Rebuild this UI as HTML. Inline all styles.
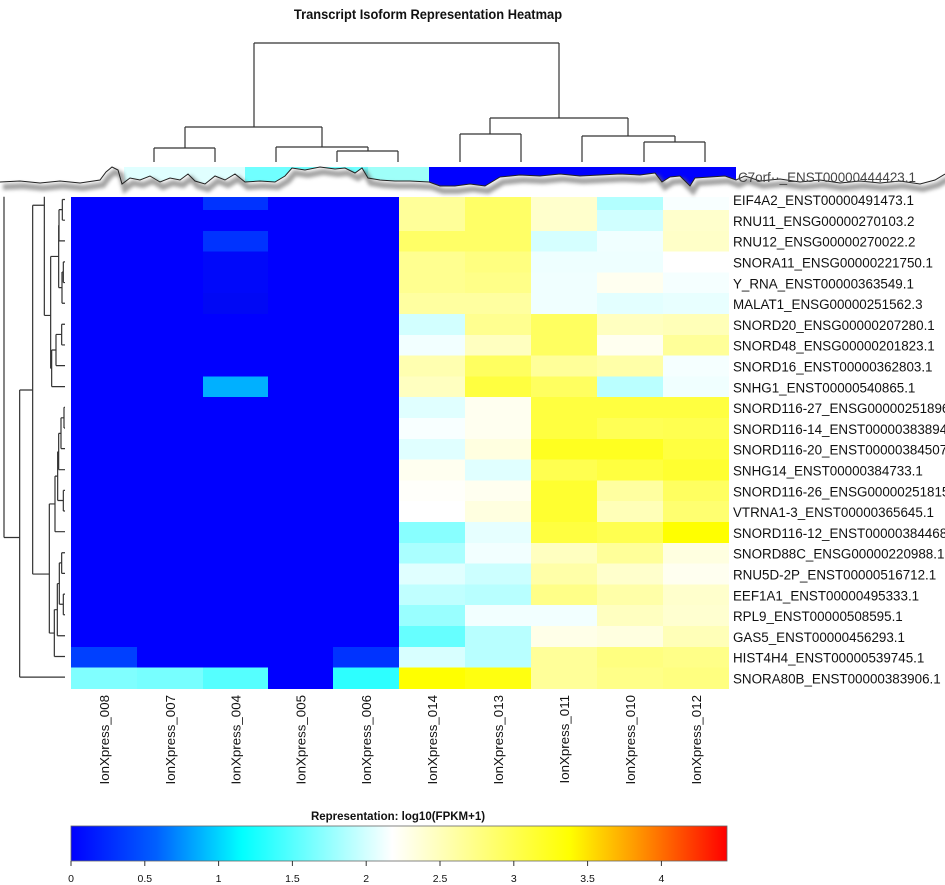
<!DOCTYPE html>
<html><head><meta charset="utf-8"><style>
body{margin:0;background:#fff}
svg{display:block;font-family:"Liberation Sans",sans-serif}
</style></head><body>
<svg width="945" height="885" viewBox="0 0 945 885" xmlns="http://www.w3.org/2000/svg">
<defs>
<filter id="bl" x="-5%" y="-100%" width="110%" height="300%"><feGaussianBlur stdDeviation="1.8"/></filter>
<linearGradient id="g" x1="0" x2="1">
<stop offset="0" stop-color="#0000ff"/><stop offset="0.13" stop-color="#0060ff"/>
<stop offset="0.26" stop-color="#00ffff"/><stop offset="0.49" stop-color="#ffffff"/>
<stop offset="0.76" stop-color="#ffff00"/><stop offset="0.86" stop-color="#ff9a00"/>
<stop offset="1" stop-color="#ff0000"/></linearGradient></defs>
<rect width="945" height="885" fill="#fff"/>
<text x="428" y="19" font-size="14" font-weight="bold" text-anchor="middle" fill="#111" transform="translate(428 0) scale(0.92 1) translate(-428 0)">Transcript Isoform Representation Heatmap</text>

<g stroke="#333" stroke-width="1.2" fill="none">
<path d="M254 43H559M254 43V127M559 43V118"/>
<path d="M185 127H322M185 127V148M322 127V147"/>
<path d="M154 148H215M154 148V167M215 148V167"/>
<path d="M276 147H368M276 147V167M368 147V151M337 151H398M337 151V167M398 151V167"/>
<path d="M490 118H628M490 118V134M628 118V136"/>
<path d="M460 134H521M460 134V167M521 134V167"/>
<path d="M582 136H675M582 136V167M675 136V142M644 142H705M644 142V167M705 142V167"/>
</g>

<g id="hm" shape-rendering="crispEdges"></g>

<rect x="0" y="162" width="945" height="35" fill="#fff"/>
<g id="strip"></g>

<g transform="translate(0,190) scale(0.3333,0.339)" stroke="#333" fill="none" stroke-width="1.2">
<path vector-effect="non-scaling-stroke" d="
M12 20V1025M12 1025H59
M59 590V1437M59 1437H195M59 590H98
M98 45V1133M98 45H133M133 20V370M133 370H152
M152 196V526M152 196H176M176 104V288M176 104H177M177 58V150M177 150H195M177 58H187M187 28V89M187 28H195M187 89H195
M176 288H186M186 242V334M186 334H195M186 242H190M190 212V273M190 212H195M190 273H195
M152 526H155M155 472V580M155 580H195M155 472H168M168 426V518M168 518H195M168 426H185M185 396V457M185 396H195M185 457H195
M98 1133H148M148 926V1307
M148 926H165M165 844V1008M165 1008H195M165 844H173M173 772V916M173 916H190M190 886V947M190 886H195M190 947H195
M173 772H176M176 718V825M176 825H195M176 718H183M183 672V763M183 763H195M183 672H192M192 641V702M192 641H195M192 702H195
M148 1307H163M163 1238V1376M163 1376H195M163 1238H172M172 1161V1315M172 1315H195M172 1161H178M178 1100V1222
M178 1100H185M185 1070V1131M185 1070H195M185 1131H195M178 1222H190M190 1192V1253M190 1192H195M190 1253H195"/>
</g>

<g font-size="13.4" fill="#111" id="rl"></g>
<g font-size="13.3" fill="#111" id="cl"></g>

<text x="398" y="820" font-size="11.5" font-weight="bold" text-anchor="middle" fill="#111">Representation: log10(FPKM+1)</text>
<rect x="71" y="826" width="656" height="35" fill="url(#g)" stroke="#666" stroke-width="0.8"/>
<g stroke="#333" stroke-width="1" id="ticks"></g>
<g font-size="10.5" fill="#111" text-anchor="middle" id="tl"></g>
</svg>
<script>
var NS="http://www.w3.org/2000/svg";
function el(t,a,p,txt){var e=document.createElementNS(NS,t);for(var k in a)e.setAttribute(k,a[k]);if(txt!=null)e.textContent=txt;p.appendChild(e);return e;}
var B="#0000ff";
var left=[
[B,B,"#0033ff",B,B],[B,B,B,B,B],[B,B,"#0033ff",B,B],[B,B,"#0008fa",B,B],[B,B,"#0008fa",B,B],[B,B,"#0008f5",B,B],
[B,B,B,B,B],[B,B,B,B,B],[B,B,B,B,B],[B,B,"#00b0ff",B,B],
[B,B,B,B,B],[B,B,B,B,B],[B,B,B,B,B],[B,B,B,B,B],[B,B,B,B,B],[B,B,B,B,B],[B,B,B,B,B],[B,B,B,B,B],[B,B,B,B,B],[B,B,B,B,B],[B,B,B,B,B],[B,B,B,B,B],
["#0040ff",B,B,B,"#0033ff"],["#80ffff","#77ffff","#55ffff",B,"#2dffff"]];
var right=[
["#ffff99","#ffff66","#ffffcc","#b3ffff","#f8ffff"],
["#ffff99","#ffff66","#ffffcc","#d0ffff","#ffffcc"],
["#ffff66","#ffff66","#d5ffff","#f0ffff","#ffffc8"],
["#ffff90","#ffff80","#eeffff","#eeffff","#ffffff"],
["#ffff90","#ffff88","#f0ffff","#fffff0","#f5ffff"],
["#ffffa0","#ffffa0","#f0ffff","#e3ffff","#e8ffff"],
["#d2ffff","#ffff90","#ffff60","#ffffc0","#ffffb8"],
["#f2ffff","#ffffc0","#ffff60","#fffff0","#ffff99"],
["#ffffb0","#ffff60","#ffff99","#ffffa8","#f5ffff"],
["#ffffc0","#ffff40","#ffff60","#baffff","#f0ffff"],
["#e0ffff","#fffff0","#ffff40","#ffff40","#ffff40"],
["#f8ffff","#fffff0","#ffff40","#ffff55","#ffff50"],
["#e0ffff","#ffffe0","#ffff20","#ffff20","#ffff40"],
["#fffff0","#e0ffff","#ffff50","#ffff40","#ffff30"],
["#fffffa","#fffff0","#ffff30","#ffffa0","#ffff60"],
["#ffffff","#ffffe0","#ffff30","#ffffb8","#ffff70"],
["#88ffff","#e6ffff","#ffff40","#ffff50","#ffff00"],
["#aaffff","#f2ffff","#ffffc0","#ffff99","#ffffe0"],
["#e0ffff","#ccffff","#ffffa8","#ffffcc","#fffff0"],
["#c0ffff","#b8ffff","#ffff88","#ffffa8","#ffffcc"],
["#99ffff","#f2ffff","#f2ffff","#ffffc0","#ffffd0"],
["#66ffff","#b8ffff","#ffffe8","#ffffe0","#ffffb8"],
["#d8ffff","#b8ffff","#ffff99","#ffff80","#ffff88"],
["#ffff00","#ffff10","#ffff99","#ffff88","#ffff80"]];
var cx=[71,137,203,268,333,399,465,531,597,663,729];
var hm=document.getElementById("hm");
var top0=189.2,ph=20.8;
for(var i=0;i<24;i++){var row=left[i].concat(right[i]);
 for(var j=0;j<10;j++){var y=top0+i*ph;
  el("rect",{x:cx[j],y:y,width:cx[j+1]-cx[j],height:ph+0.5,fill:row[j]},hm);}}
var labels=["EIF4A2_ENST00000491473.1","RNU11_ENSG00000270103.2","RNU12_ENSG00000270022.2","SNORA11_ENSG00000221750.1","Y_RNA_ENST00000363549.1","MALAT1_ENSG00000251562.3","SNORD20_ENSG00000207280.1","SNORD48_ENSG00000201823.1","SNORD16_ENST00000362803.1","SNHG1_ENST00000540865.1","SNORD116-27_ENSG00000251896","SNORD116-14_ENST00000383894","SNORD116-20_ENST00000384507","SNHG14_ENST00000384733.1","SNORD116-26_ENSG00000251815","VTRNA1-3_ENST00000365645.1","SNORD116-12_ENST00000384468","SNORD88C_ENSG00000220988.1","RNU5D-2P_ENST00000516712.1","EEF1A1_ENST00000495333.1","RPL9_ENST00000508595.1","GAS5_ENST00000456293.1","HIST4H4_ENST00000539745.1","SNORA80B_ENST00000383906.1"];
var rl=document.getElementById("rl");
for(var i=0;i<24;i++){el("text",{x:733,y:top0+i*ph+ph/2+5.5},rl,labels[i]);}
var cn=["008","007","004","005","006","014","013","011","010","012"];
var cl=document.getElementById("cl");
for(var j=0;j<10;j++){var x=(cx[j]+cx[j+1])/2+5;
 el("text",{x:0,y:0,"text-anchor":"end",transform:"translate("+x+",695) rotate(-90)"},cl,"IonXpress_"+cn[j]);}
var st=document.getElementById("strip");
var pts=[[0,182],[20,181],[40,183],[60,181],[80,183],[100,180],[106,172],[112,167],[118,170],[122,184],[130,178],[140,180],[150,176],[160,182],[170,178],[180,180],[188,174],[195,181],[205,184],[215,176],[225,180],[235,174],[245,182],[260,181],[275,182],[285,176],[292,168],[305,170],[320,167],[335,169],[345,168],[355,173],[362,168],[368,178],[380,180],[395,181],[410,181],[429,182],[440,186],[455,186],[470,184],[485,186],[500,177],[520,175],[540,176],[560,174],[580,176],[600,175],[620,174],[640,175],[655,173],[662,182],[670,177],[680,176],[690,186],[695,178],[710,177],[725,176],[736,180],[745,176],[760,181],[780,179],[800,182],[820,180],[840,183],[860,181],[880,183],[900,181],[920,184],[935,180],[945,174]];
function yAt(x){for(var k=0;k<pts.length-1;k++){if(x>=pts[k][0]&&x<=pts[k+1][0]){var t=(x-pts[k][0])/(pts[k+1][0]-pts[k][0]);return pts[k][1]+t*(pts[k+1][1]-pts[k][1]);}}return 180;}
function fillSeg(x0,x1,c){var d="M"+x0+" 167";var p=pts.filter(function(q){return q[0]>=x0&&q[0]<=x1;});
 d+="H"+x1+"V"+yAt(x1);for(var k=p.length-1;k>=0;k--)d+="L"+p[k][0]+" "+p[k][1];d+="L"+x0+" "+yAt(x0)+"Z";el("path",{d:d,fill:c},st);}
fillSeg(124,245,"#e0ffff");fillSeg(245,368,"#70ffff");fillSeg(368,429,"#9ffff9");fillSeg(429,736,"#0000ff");
var pd="M"+pts.map(function(q){return q[0]+" "+q[1];}).join("L");
el("path",{d:pd,transform:"translate(3,5)",fill:"none",stroke:"#666","stroke-width":6,opacity:0.6,filter:"url(#bl)"},st);
el("path",{d:pd,fill:"none",stroke:"#222","stroke-width":1},st);
el("text",{x:738,y:182,"font-size":"13.4",fill:"#444"},st,"C7orf··_ENST00000444423.1");
var tk=document.getElementById("ticks"),tl=document.getElementById("tl");
["0","0.5","1","1.5","2","2.5","3","3.5","4"].forEach(function(s,k){var x=71+k*73.8;
 el("line",{x1:x,x2:x,y1:861,y2:866},tk);el("text",{x:x,y:882},tl,s);});
</script>
</body></html>
